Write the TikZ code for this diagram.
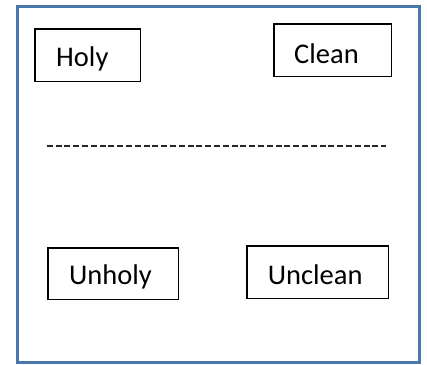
\documentclass[tikz,border=0pt]{standalone}
\usepackage{fontspec}
\setmainfont{Carlito}
\definecolor{frameblue}{RGB}{74,120,174}
\begin{document}
\begin{tikzpicture}[x=1pt,y=-1pt,
  box/.style={draw=black,line width=1.5pt,rectangle,inner sep=0pt},
  lbl/.style={inner sep=0pt,font=\fontsize{28.5}{34}\selectfont},
  frame/.style={draw=frameblue,line width=2.6pt}]
\useasboundingbox (0,0) rectangle (427,364);
\draw[frame] (17.3,6.3) rectangle (419.2,362.6);
% boxes
\node[box,minimum width=105.5pt,minimum height=52.5pt] (holy) at (87.5,55) {};
\node[lbl,anchor=base west] (holyt) at (56,66.7) {Holy};
\node[box,minimum width=117.5pt,minimum height=52.5pt] (clean) at (332.5,50) {};
\node[lbl,anchor=base west] (cleant) at (294,63.3) {Clean};
\node[box,minimum width=130.5pt,minimum height=51.5pt] (unholy) at (113,273.5) {};
\node[lbl,anchor=base west] (unholyt) at (69,284.3) {Unholy};
\node[box,minimum width=141.5pt,minimum height=52.5pt] (unclean) at (317.5,272) {};
\node[lbl,anchor=base west] (uncleant) at (267.7,284) {Unclean};
% dashed separator
\coordinate (dl) at (46.7,146);
\coordinate (dr) at (386,146);
\draw[line width=2.6pt,draw=black!85,dash pattern=on 6pt off 2.8pt] (dl) -- (dr);
\end{tikzpicture}
\end{document}
